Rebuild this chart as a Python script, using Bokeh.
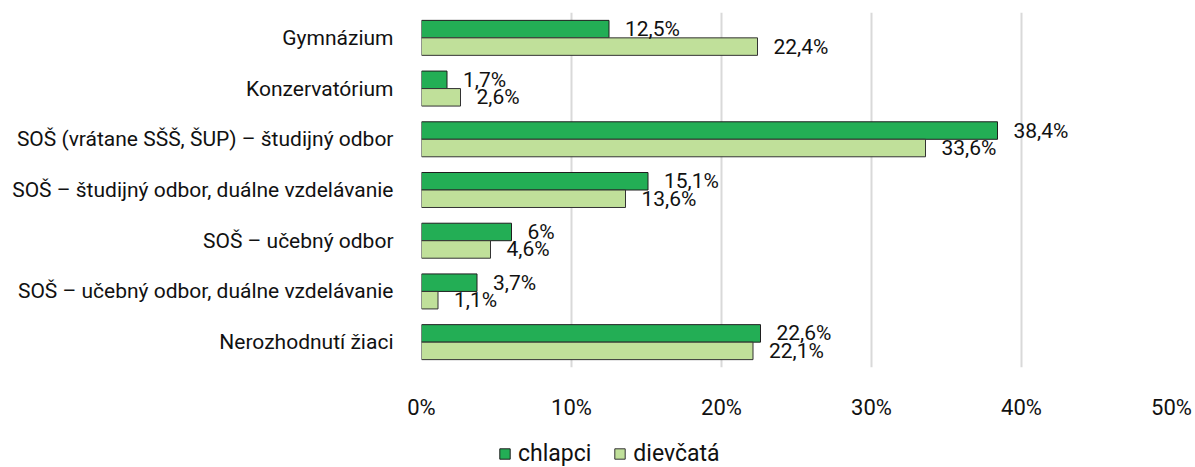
from bokeh.plotting import figure
from bokeh.layouts import column
from bokeh.models import ColumnDataSource, FactorRange, Legend, LegendItem, FixedTicker, CustomJSTickFormatter
from bokeh.transform import dodge
from bokeh.core.properties import value
from bokeh.embed import file_html
from bokeh.resources import INLINE

categories = [
    "Gymnázium",
    "Konzervatórium",
    "SOŠ (vrátane SŠŠ, ŠUP) – študijný odbor",
    "SOŠ – študijný odbor, duálne vzdelávanie",
    "SOŠ – učebný odbor",
    "SOŠ – učebný odbor, duálne vzdelávanie",
    "Nerozhodnutí žiaci",
]
chlapci = [12.5, 1.7, 38.4, 15.1, 6, 3.7, 22.6]
dievcata = [22.4, 2.6, 33.6, 13.6, 4.6, 1.1, 22.1]
series_names = ["chlapci", "dievčatá"]
x_ticks = [0, 10, 20, 30, 40, 50]

FONT = "Roboto"
DARK = "#23AE55"
LIGHT = "#C0E09A"
TXT = "#111111"


def fmt(v):
    return f"{v:g}".replace(".", ",") + "%"


src = ColumnDataSource(dict(
    cat=categories,
    ch=chlapci,
    di=dievcata,
    ch_lbl=[fmt(v) for v in chlapci],
    di_lbl=[fmt(v) for v in dievcata],
))

p = figure(
    width=1195, height=437,
    y_range=FactorRange(factors=categories[::-1], range_padding=0),
    x_range=(0, 50),
    output_backend="svg", toolbar_location=None,
    min_border_left=421, min_border_right=24, min_border_top=12, min_border_bottom=70,
)
p.outline_line_color = None
p.background_fill_color = "white"

off = 0.1725
bh = 0.345
p.hbar(y=dodge("cat", off, range=p.y_range), right="ch", left=0, height=bh,
       fill_color=DARK, line_color="#1f1f1f", line_width=1, source=src)
p.hbar(y=dodge("cat", -off, range=p.y_range), right="di", left=0, height=bh,
       fill_color=LIGHT, line_color="#333333", line_width=1, source=src)

p.text(x="ch", y=dodge("cat", off, range=p.y_range), text="ch_lbl", x_offset=16,
       text_baseline="middle", text_align="left", text_font=value(FONT),
       text_font_size="21px", text_color=TXT, source=src)
p.text(x="di", y=dodge("cat", -off, range=p.y_range), text="di_lbl", x_offset=16,
       text_baseline="middle", text_align="left", text_font=value(FONT),
       text_font_size="21px", text_color=TXT, source=src)

# axes
p.xaxis.ticker = FixedTicker(ticks=x_ticks)
p.xaxis.formatter = CustomJSTickFormatter(code="return tick + '%';")
p.xaxis.axis_line_color = None
p.xaxis.major_tick_line_color = None
p.xaxis.minor_tick_line_color = None
p.xaxis.major_label_standoff = 21
p.xaxis.major_label_text_font = FONT
p.xaxis.major_label_text_font_size = "22px"
p.xaxis.major_label_text_color = TXT

p.yaxis.axis_line_color = None
p.yaxis.major_tick_line_color = None
p.yaxis.minor_tick_line_color = None
p.yaxis.major_label_standoff = 22
p.yaxis.major_label_text_font = FONT
p.yaxis.major_label_text_font_size = "21px"
p.yaxis.major_label_text_color = TXT

p.ygrid.grid_line_color = None
p.xgrid.grid_line_color = "#D9D9D9"
p.xgrid.grid_line_width = 2

# legend strip below the chart (its frame is aligned with the chart's frame)
leg = figure(
    width=1195, height=30, x_range=(0, 1), y_range=(0, 1),
    output_backend="svg", toolbar_location=None,
    x_axis_type=None, y_axis_type=None, min_border=0,
)
leg.outline_line_color = None
leg.grid.visible = False
l1 = leg.hbar(y=[-5], right=[0.1], left=0, height=0.1,
              fill_color=DARK, line_color="#1f1f1f", line_width=1)
l2 = leg.hbar(y=[-5], right=[0.1], left=0, height=0.1,
              fill_color=LIGHT, line_color="#333333", line_width=1)
legend = Legend(
    items=[LegendItem(label=series_names[0], renderers=[l1]),
           LegendItem(label=series_names[1], renderers=[l2])],
    orientation="horizontal",
    location=(77, 0),
    glyph_width=13, glyph_height=13,
    label_standoff=7, spacing=22,
    padding=0, margin=0,
    border_line_alpha=0, background_fill_alpha=0,
    label_text_font=FONT, label_text_font_size="23px", label_text_color=TXT,
)
leg.add_layout(legend, "center")

open("out.html", "w").write(file_html(column(p, leg, spacing=0), INLINE))
